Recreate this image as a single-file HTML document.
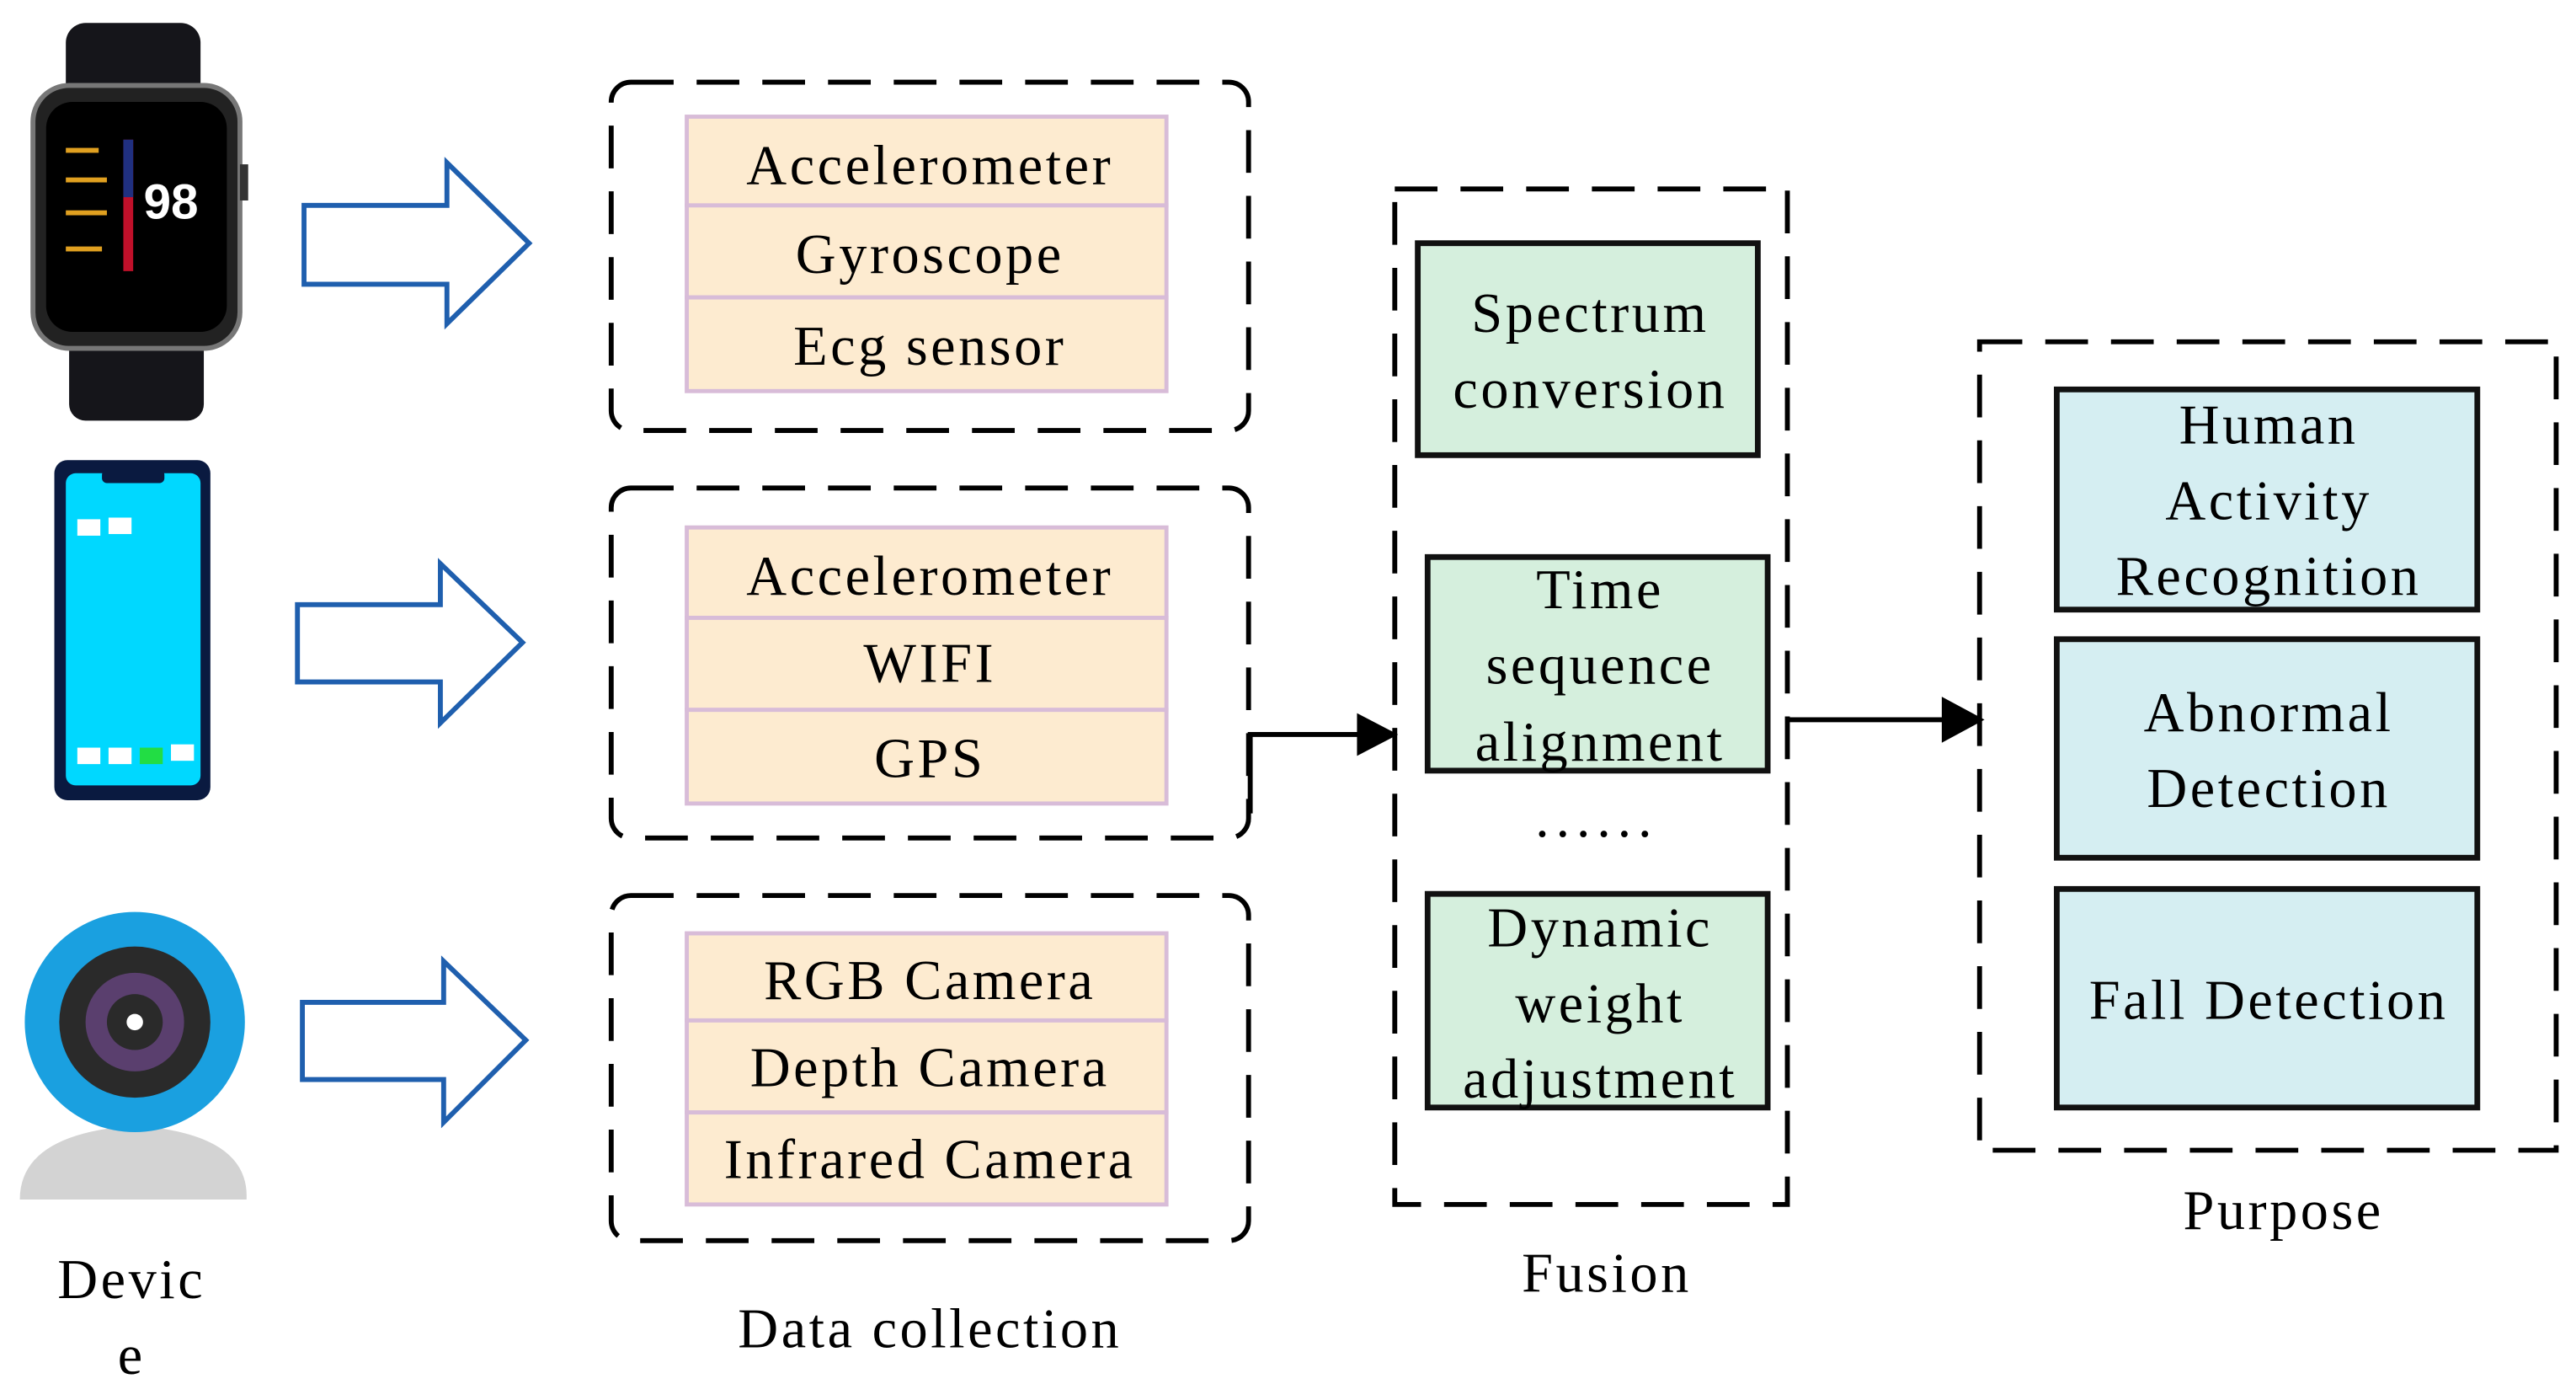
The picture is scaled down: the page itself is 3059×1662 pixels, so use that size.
<!DOCTYPE html>
<html><head><meta charset="utf-8"><style>
html,body{margin:0;padding:0;background:#fff;}
svg{display:block;}
text{font-family:"Liberation Serif",serif;fill:#000;letter-spacing:1.8px;}
</style></head><body>
<svg width="3059" height="1662" viewBox="0 0 1568 852" xmlns="http://www.w3.org/2000/svg">
<rect width="1568" height="852" fill="#fff"/>
<!-- watch -->
<rect x="40" y="14" width="82" height="70" rx="12" fill="#15151a"/>
<rect x="42" y="170" width="82" height="86" rx="10" fill="#15151a"/>
<rect x="20" y="52" width="126" height="160" rx="22" fill="#222" stroke="#777" stroke-width="3"/>
<rect x="28" y="62" width="110" height="140" rx="16" fill="#000"/>
<rect x="146" y="100" width="5" height="22" fill="#333"/>
<rect x="75" y="85" width="6" height="80" fill="#c0102a"/>
<rect x="75" y="85" width="6" height="35" fill="#203080"/>
<text x="104" y="133" font-size="30" text-anchor="middle" style="fill:#fff;font-family:'Liberation Sans',sans-serif;font-weight:bold;letter-spacing:0">98</text>
<rect x="40" y="90" width="20" height="3" fill="#e0a020"/>
<rect x="40" y="108" width="25" height="3" fill="#e0a020"/>
<rect x="40" y="128" width="25" height="3" fill="#e0a020"/>
<rect x="40" y="150" width="22" height="3" fill="#e0a020"/>
<!-- phone -->
<rect x="33" y="280" width="95" height="207" rx="8" fill="#0a1a40"/>
<rect x="40" y="288" width="82" height="190" rx="6" fill="#00d8ff"/>
<rect x="62" y="286" width="38" height="8" rx="3" fill="#0a1a40"/>
<rect x="47" y="316" width="14" height="10" fill="#fff"/>
<rect x="66" y="315" width="14" height="10" fill="#fff"/>
<rect x="47" y="455" width="14" height="10" fill="#fff"/>
<rect x="66" y="455" width="14" height="10" fill="#fff"/>
<rect x="85" y="455" width="14" height="10" fill="#22dd44"/>
<rect x="104" y="453" width="14" height="10" fill="#fff"/>
<!-- camera -->
<path d="M12 730 Q12 690 82 685 Q152 690 150 730 Z" fill="#d3d3d3"/>
<circle cx="82" cy="622" r="67" fill="#1aa0e0"/>
<circle cx="82" cy="622" r="46" fill="#2a2a2a"/>
<circle cx="82" cy="622" r="30" fill="#5a3f6e"/>
<circle cx="82" cy="622" r="17" fill="#2a2a2a"/>
<circle cx="82" cy="622" r="5" fill="#fff"/>
<text x="80" y="790" font-size="34" text-anchor="middle">Devic</text>
<text x="80" y="836" font-size="34" text-anchor="middle">e</text>
<!-- blue arrows -->
<g fill="#fff" stroke="#1f5fae" stroke-width="3">
<path d="M185 125 H272 V99 L322 148 L272 197 V173 H185 Z"/>
<path d="M181 368 H268 V343 L318 391 L268 440 V415 H181 Z"/>
<path d="M184 610 H270 V585 L320 633 L270 683 V657 H184 Z"/>
</g>
<!-- dashed groups -->
<g fill="none" stroke="#000" stroke-width="3" stroke-dasharray="26,14">
<rect x="372" y="50" width="388" height="212" rx="12"/>
<rect x="372" y="297" width="388" height="213" rx="12"/>
<rect x="372" y="545" width="388" height="210" rx="12"/>
<rect x="849" y="115" width="239" height="618"/>
<rect x="1205" y="208" width="351" height="492"/>
</g>
<g fill="#fdebd0" stroke="#d8bcd8" stroke-width="2.5">
<rect x="418" y="71" width="292" height="54"/><rect x="418" y="125" width="292" height="56"/><rect x="418" y="181" width="292" height="57"/>
<rect x="418" y="321" width="292" height="55"/><rect x="418" y="376" width="292" height="56"/><rect x="418" y="432" width="292" height="57"/>
<rect x="418" y="568" width="292" height="53"/><rect x="418" y="621" width="292" height="56"/><rect x="418" y="677" width="292" height="56"/>
</g>
<g font-size="34" text-anchor="middle">
<text x="566" y="112">Accelerometer</text>
<text x="566" y="166">Gyroscope</text>
<text x="566" y="222">Ecg sensor</text>
<text x="566" y="362">Accelerometer</text>
<text x="566" y="415">WIFI</text>
<text x="566" y="473">GPS</text>
<text x="566" y="608">RGB Camera</text>
<text x="566" y="661">Depth Camera</text>
<text x="566" y="717">Infrared Camera</text>
<text x="566" y="820">Data collection</text>
</g>
<!-- fusion -->
<g fill="#d5efdd" stroke="#111" stroke-width="3.5">
<rect x="863" y="148" width="207" height="129"/>
<rect x="869" y="339" width="207" height="130"/>
<rect x="869" y="544" width="207" height="130"/>
</g>
<g font-size="34" text-anchor="middle">
<text x="968" y="202">Spectrum</text>
<text x="968" y="248">conversion</text>
<text x="974" y="370">Time</text>
<text x="974" y="416">sequence</text>
<text x="974" y="463">alignment</text>
<text x="972" y="509" style="letter-spacing:4px">......</text>
<text x="974" y="576">Dynamic</text>
<text x="974" y="622">weight</text>
<text x="974" y="668">adjustment</text>
<text x="978" y="786">Fusion</text>
</g>
<!-- connectors -->
<path d="M761 495 V447 H830" fill="none" stroke="#000" stroke-width="3"/>
<path d="M826 434 L851 447 L826 460 Z" fill="#000"/>
<path d="M1088 438 H1185" fill="none" stroke="#000" stroke-width="3"/>
<path d="M1182 424 L1208 438 L1182 452 Z" fill="#000"/>
<!-- purpose -->
<g fill="#d5eef2" stroke="#111" stroke-width="3.5">
<rect x="1252" y="237" width="256" height="134"/>
<rect x="1252" y="389" width="256" height="133"/>
<rect x="1252" y="541" width="256" height="133"/>
</g>
<g font-size="34" text-anchor="middle">
<text x="1381" y="270">Human</text>
<text x="1381" y="316">Activity</text>
<text x="1381" y="362">Recognition</text>
<text x="1381" y="445">Abnormal</text>
<text x="1381" y="491">Detection</text>
<text x="1381" y="620">Fall Detection</text>
<text x="1390" y="748">Purpose</text>
</g>
</svg>
</body></html>
